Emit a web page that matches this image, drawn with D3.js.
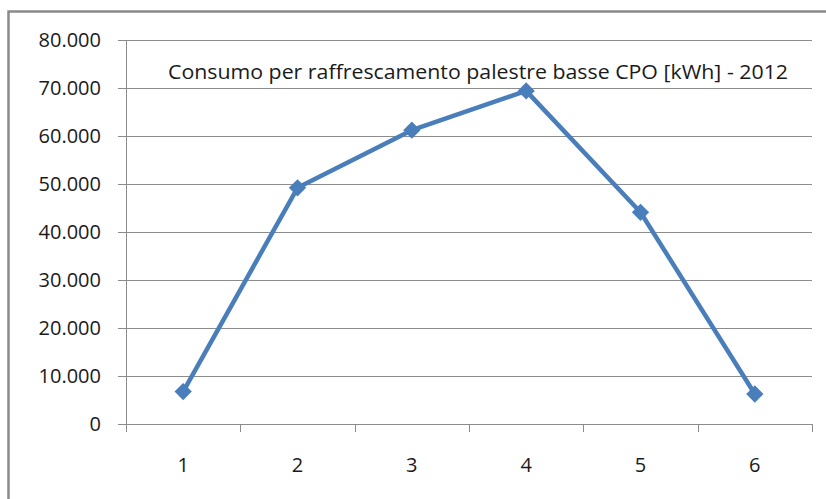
<!DOCTYPE html>
<html>
<head>
<meta charset="utf-8">
<script src="https://cdn.jsdelivr.net/npm/d3@7"></script>
<style>
  body { margin: 0; background: #fff; }
  text { font-family: "Open Sans", "Liberation Sans", sans-serif; fill: #1a1a1a; }
</style>
</head>
<body>
<div id="chart"></div>
<script>
// Data
var months = [1, 2, 3, 4, 5, 6];
var consumo = [6750, 49200, 61200, 69400, 44100, 6250];
var yTicks = [0, 10000, 20000, 30000, 40000, 50000, 60000, 70000, 80000];
var chartTitle = "Consumo per raffrescamento palestre basse CPO [kWh] - 2012";

var W = 826, H = 499,
    margin = {top: 40, right: 14, bottom: 75, left: 126},
    width = 812 - margin.left,
    height = 424 - margin.top;

var it = d3.formatLocale({decimal: ",", thousands: ".", grouping: [3], currency: ["€", ""]});
var fmt = it.format(",");

var svg = d3.select("#chart").append("svg")
    .attr("width", W)
    .attr("height", H);

// Outer chart border
svg.append("rect")
    .attr("x", 8.5).attr("y", 11.5)
    .attr("width", 840).attr("height", 520)
    .attr("fill", "none")
    .attr("stroke", "#8a8a8a")
    .attr("stroke-width", 2.5);

var g = svg.append("g")
    .attr("transform", "translate(" + margin.left + "," + margin.top + ")");

var x = d3.scaleBand().domain(months).range([0, width]);
var y = d3.scaleLinear().domain([0, 80000]).range([height, 0]);

// Gridlines
g.selectAll(".grid")
    .data(yTicks.filter(function(d) { return d > 0; }))
  .enter().append("line")
    .attr("class", "grid")
    .attr("x1", 0).attr("x2", width)
    .attr("y1", function(d) { return Math.round(y(d)) + 0.5; })
    .attr("y2", function(d) { return Math.round(y(d)) + 0.5; })
    .attr("stroke", "#8c8c8c")
    .attr("stroke-width", 1);

// Y axis
var yAxis = g.append("g")
    .call(d3.axisLeft(y).tickValues(yTicks).tickSize(8).tickPadding(17).tickFormat(fmt));
yAxis.selectAll("line, path").attr("stroke", "#8c8c8c");
yAxis.selectAll("text")
    .style("font-size", "20px")
    .style("font-family", "'Open Sans', sans-serif")
    .attr("fill", "#1a1a1a");

// X axis, ticks between categories
var xAxis = g.append("g")
    .attr("transform", "translate(0," + height + ")");
xAxis.append("line")
    .attr("x1", 0).attr("x2", width)
    .attr("y1", 0.5).attr("y2", 0.5)
    .attr("stroke", "#8c8c8c");
xAxis.selectAll(".tk")
    .data(months.concat([null]))
  .enter().append("line")
    .attr("class", "tk")
    .attr("x1", function(d, i) { return Math.round(i * x.step()) + 0.5; })
    .attr("x2", function(d, i) { return Math.round(i * x.step()) + 0.5; })
    .attr("y1", 0).attr("y2", 8)
    .attr("stroke", "#8c8c8c");
xAxis.selectAll(".lbl")
    .data(months)
  .enter().append("text")
    .attr("class", "lbl")
    .attr("x", function(d) { return x(d) + x.bandwidth() / 2; })
    .attr("y", 48)
    .attr("text-anchor", "middle")
    .style("font-size", "20px")
    .text(function(d) { return d; });

// Line
var line = d3.line()
    .x(function(d, i) { return x(months[i]) + x.bandwidth() / 2; })
    .y(function(d) { return y(d); });

g.append("path")
    .datum(consumo)
    .attr("fill", "none")
    .attr("stroke", "#4a7ebb")
    .attr("stroke-width", 4.5)
    .attr("stroke-linejoin", "round")
    .attr("d", line);

// Diamond markers
g.selectAll(".pt")
    .data(consumo)
  .enter().append("path")
    .attr("class", "pt")
    .attr("d", d3.symbol().type(d3.symbolDiamond2).size(190))
    .attr("transform", function(d, i) {
        return "translate(" + (x(months[i]) + x.bandwidth() / 2) + "," + y(d) + ")";
    })
    .attr("fill", "#4a7ebb");

// Title inside plot area
svg.append("text")
    .attr("x", 168)
    .attr("y", 79)
    .attr("textLength", 620)
    .attr("lengthAdjust", "spacingAndGlyphs")
    .style("font-size", "20px")
    .text(chartTitle);
</script>
</body>
</html>
